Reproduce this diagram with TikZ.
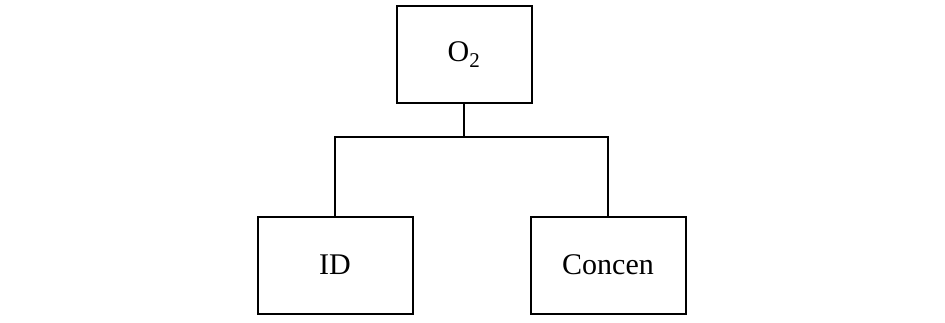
\documentclass[tikz,border=0pt]{standalone}
\usepackage{fontspec}
\setmainfont{Liberation Serif}
\usetikzlibrary{calc,positioning}

\begin{document}
\begin{tikzpicture}[x=1pt,y=-1pt,
      box/.style={draw,line width=2pt,minimum height=97pt,inner sep=0pt,
        font=\fontsize{30}{36}\selectfont},
      e/.style={draw,line width=2pt}]
    \useasboundingbox (0,0) rectangle (945,322);
    % top: parent
    \node[box,minimum width=135pt] (O2) at (464,54.5) {O\textsubscript{2}};
    % bottom: children
    \node[box,minimum width=155pt] (ID) at (335,265) {ID};
    \node[box,minimum width=155pt] (Con) at (608,265) {Concen};
    % tree connector
    \coordinate (J) at ($(O2.south)+(0,32.5)$);
    \draw[e] (O2.south) -- (J);
    \draw[e] (ID.north) |- (J) -| (Con.north);
  \end{tikzpicture}
\end{document}
